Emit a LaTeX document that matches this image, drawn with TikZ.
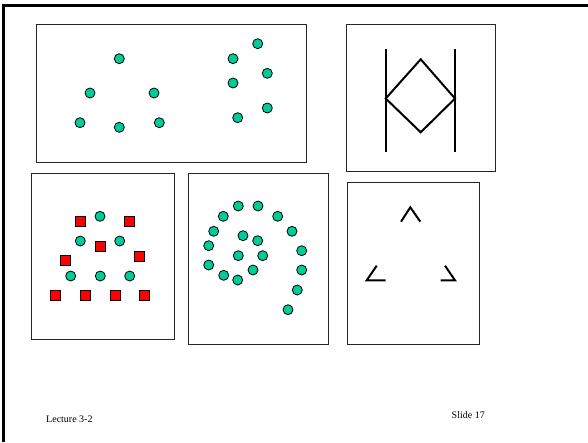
\documentclass[tikz,border=0pt]{standalone}
\usepackage{fontspec}
\setmainfont{Liberation Serif}
\definecolor{dotgreen}{HTML}{00CC99}
\begin{document}
\begin{tikzpicture}[x=1pt,y=-1pt,
  panel/.style={draw=black!85,line width=0.9pt},
  gdot/.style={circle,draw=black,line width=0.8pt,fill=dotgreen,inner sep=0pt,minimum size=10pt},
  rsq/.style={rectangle,draw=black,line width=0.8pt,fill=red,inner sep=0pt,minimum size=10pt},
  stroke/.style={line width=2pt,line cap=butt,line join=miter},
  caret/.style={line width=2pt,line join=miter},
  lbl/.style={font=\fontsize{10}{12}\selectfont,inner sep=0pt}]
\useasboundingbox (0,0) rectangle (588,442);
% slide border
\draw[line width=3pt] (3.5,442) -- (3.5,5.5) -- (588,5.5);
% panels
\draw[panel] (36,24) rectangle (306,162);
\draw[panel] (346,24) rectangle (495,171);
\draw[panel] (31,173) rectangle (174,339);
\draw[panel] (188,173) rectangle (328,344);
\draw[panel] (347,182) rectangle (479,344);
% panel 1 dots
\foreach \p/\q [count=\i] in {119.3/58.7,90/93,154/93,80/122.7,119.3/127.3,159.3/122.7,
  257.7/43.7,233/58.7,267.3/73.3,233/83,267.3/108,237.7/117.7}
  \node[gdot] (a\i) at (\p,\q) {};
% panel 2 figure
\coordinate (lt) at (385.7,49.3); \coordinate (lb) at (385.7,151.7);
\coordinate (rt) at (455,49.3); \coordinate (rb) at (455,151.7);
\coordinate (dt) at (420.7,59.3); \coordinate (dl) at (385.7,98.5);
\coordinate (db) at (420.7,132.3); \coordinate (dr) at (455,98.5);
\draw[stroke] (lt) -- (lb);
\draw[stroke] (rt) -- (rb);
\draw[caret] (dt) -- (dl) -- (db) -- (dr) -- cycle;
% panel 3
\foreach \p/\q [count=\i] in {100/216.3,80.3/241,119.7/241,70.7/276,100.3/276,129.7/276}
  \node[gdot] (b\i) at (\p,\q) {};
\foreach \p/\q [count=\i] in {80.3/221.3,129.7/221.3,100/246,65.7/260.3,139.7/256,
  55.7/295.3,85.3/295.3,115/295.3,144.3/295.3}
  \node[rsq] (s\i) at (\p,\q) {};
% panel 4 spiral
\foreach \p/\q [count=\i] in {238.3/206,258/206,223.3/216.3,277.7/216.3,213.7/231.3,292/231.3,
  243/235.7,257.7/240.7,208.7/245.7,301.7/250.7,238.3/255.7,262.7/255.7,208.7/265,
  253/270,301.7/270,223.7/275.3,237.7/280,297.3/290,288/309.7}
  \node[gdot] (c\i) at (\p,\q) {};
% panel 5 carets
\coordinate (t1) at (401,221.7); \coordinate (t2) at (410.3,207.3); \coordinate (t3) at (420.3,221.7);
\coordinate (l1) at (376.7,265.7); \coordinate (l2) at (366.7,280.3); \coordinate (l3) at (385.7,280.3);
\coordinate (r1) at (445,265.7); \coordinate (r2) at (455,280.3); \coordinate (r3) at (440.7,280.3);
\draw[caret] (t1) -- (t2) -- (t3);
\draw[caret] (l1) -- (l2) -- (l3);
\draw[caret] (r1) -- (r2) -- (r3);
% footer
\node[lbl,anchor=west] (lec) at (46,419) {Lecture 3-2};
\node[lbl,anchor=west] (sld) at (451.5,415) {Slide 17};
\end{tikzpicture}
\end{document}
